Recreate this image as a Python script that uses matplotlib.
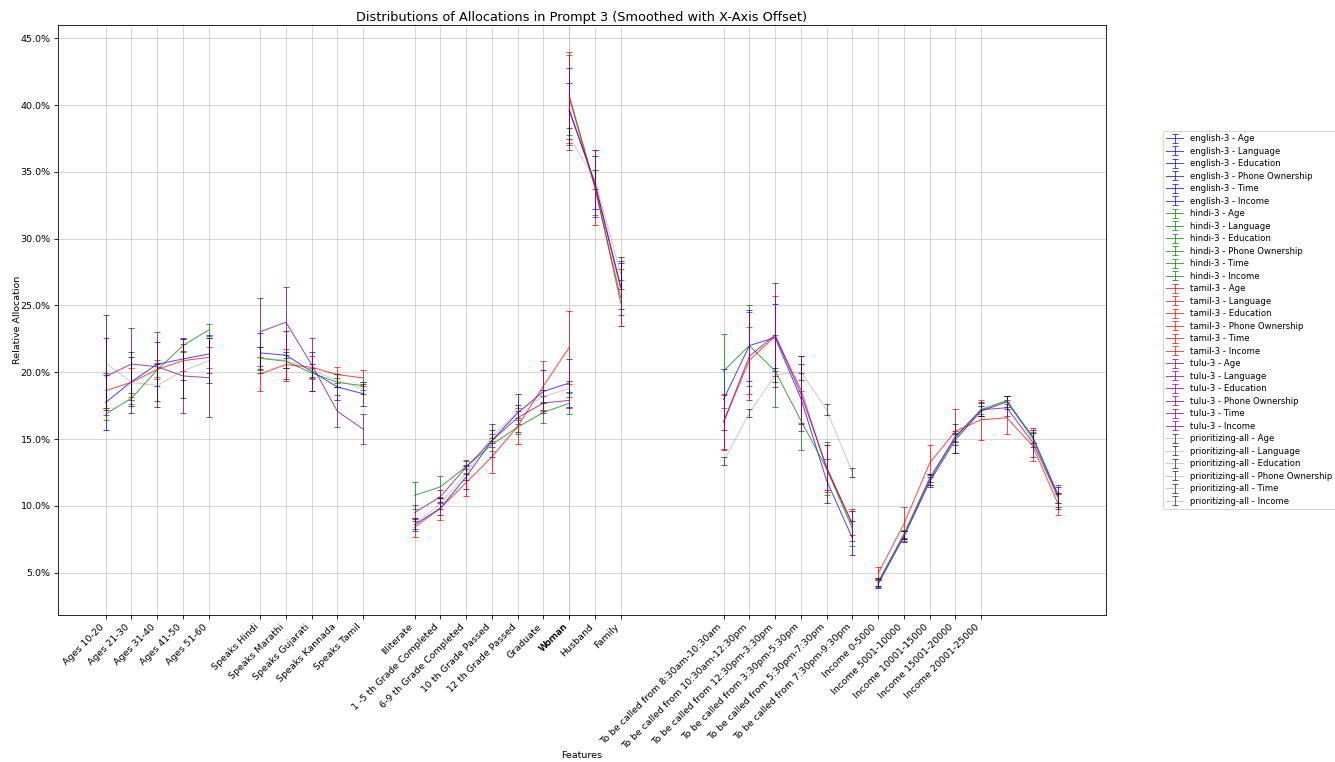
import numpy as np
import matplotlib
matplotlib.use("Agg")
import matplotlib.pyplot as plt
from matplotlib.ticker import PercentFormatter

# ---------------- data (percent) ----------------
sources = ["english-3", "hindi-3", "tamil-3", "tulu-3", "prioritizing-all"]
groups = ["Age", "Language", "Education", "Phone Ownership", "Time", "Income"]
group_starts = [0, 6, 12, 18, 24, 30]

age_labels = ["Ages 10-20", "Ages 21-30", "Ages 31-40", "Ages 41-50", "Ages 51-60"]
lang_labels = ["Speaks Hindi", "Speaks Marathi", "Speaks Gujarati", "Speaks Kannada", "Speaks Tamil"]
edu_labels = ["Illiterate", "1 -5 th Grade Completed", "6-9 th Grade Completed",
              "10 th Grade Passed", "12 th Grade Passed", "Graduate", "Woman"]
phone_labels = ["Woman", "Husband", "Family"]
time_labels = ["To be called from 8:30am-10:30am", "To be called from 10:30am-12:30pm",
               "To be called from 12:30pm-3:30pm", "To be called from 3:30pm-5:30pm",
               "To be called from 5:30pm-7:30pm", "To be called from 7:30pm-9:30pm"]
income_labels = ["Income 0-5000", "Income 5001-10000", "Income 10001-15000",
                 "Income 15001-20000", "Income 20001-25000"]

english_age = [17.74, 19.3, 20.6, 21.0, 21.37]
english_age_err = [2.05, 1.85, 1.65, 1.55, 1.45]
hindi_age = [16.87, 18.06, 20.17, 22.0, 23.16]
hindi_age_err = [0.43, 0.4, 0.55, 0.5, 0.47]
tamil_age = [18.63, 19.25, 20.22, 20.87, 21.12]
tamil_age_err = [1.3, 1.1, 0.7, 0.75, 0.8]
tulu_age = [19.68, 20.62, 20.42, 19.73, 19.6]
tulu_age_err = [2.9, 2.7, 2.6, 2.8, 2.95]
prio_age = [20.72, 19.23, 19.03, 20.1, 20.87]
prio_age_err = [3.55, 2.3, 1.6, 2.0, 1.7]

english_lang = [21.45, 21.28, 20.08, 18.9, 18.4]
english_lang_err = [1.5, 1.8, 1.45, 1.0, 0.9]
hindi_lang = [21.05, 20.83, 19.95, 19.25, 19.0]
hindi_lang_err = [0.85, 0.5, 0.4, 0.35, 0.3]
tamil_lang = [19.88, 20.58, 20.38, 19.83, 19.58]
tamil_lang_err = [1.3, 1.2, 0.85, 0.6, 0.6]
tulu_lang = [23.03, 23.75, 20.58, 17.08, 15.75]
tulu_lang_err = [2.55, 2.65, 2.0, 1.2, 1.1]
prio_lang = [21.08, 20.9, 20.15, 19.4, 18.75]
prio_lang_err = [0.8, 0.6, 0.5, 0.5, 0.4]

english_edu = [8.6, 9.83, 12.18, 14.9, 16.96, 18.57, 19.2]
english_edu_err = [0.5, 0.5, 0.9, 1.2, 1.45, 1.6, 1.8]
hindi_edu = [10.8, 11.43, 12.95, 14.6, 15.9, 17.0, 17.68]
hindi_edu_err = [1.0, 0.8, 0.5, 0.5, 0.5, 0.8, 0.8]
tamil_edu = [8.4, 9.83, 11.75, 13.67, 15.96, 18.97, 21.86]
tamil_edu_err = [0.7, 0.85, 1.0, 1.2, 1.35, 1.9, 2.75]
tulu_edu = [9.5, 10.7, 12.9, 14.9, 16.6, 17.7, 17.9]
tulu_edu_err = [0.6, 0.5, 0.5, 0.5, 0.5, 0.5, 0.6]
prio_edu = [8.65, 10.17, 12.46, 15.2, 17.05, 18.2, 18.77]
prio_edu_err = [0.4, 0.4, 0.5, 0.5, 0.5, 0.5, 0.6]

english_phone = [39.58, 34.2, 26.45]
english_phone_err = [2.1, 2.0, 1.7]
hindi_phone = [40.75, 33.95, 25.2]
hindi_phone_err = [3.0, 2.2, 1.7]
tamil_phone = [40.58, 33.8, 25.6]
tamil_phone_err = [3.4, 2.8, 2.1]
tulu_phone = [39.7, 34.1, 26.3]
tulu_phone_err = [3.1, 2.5, 2.0]
prio_phone = [37.65, 34.45, 27.4]
prio_phone_err = [0.65, 0.7, 1.2]

english_time = [17.98, 22.0, 22.6, 18.05, 11.9, 7.6]
english_time_err = [2.3, 2.65, 2.5, 1.9, 1.65, 1.3]
hindi_time = [20.1, 22.0, 20.1, 16.4, 12.8, 8.3]
hindi_time_err = [2.75, 3.0, 2.7, 2.2, 2.0, 1.3]
tamil_time = [16.3, 20.9, 22.7, 18.7, 12.8, 8.7]
tamil_time_err = [2.0, 2.5, 3.0, 2.5, 1.75, 0.9]
tulu_time = [16.3, 21.2, 22.8, 18.4, 12.9, 8.6]
tulu_time_err = [2.1, 3.3, 3.9, 2.8, 1.7, 1.2]
prio_time = [13.35, 16.97, 19.8, 20.05, 17.2, 12.5]
prio_time_err = [0.3, 0.3, 0.5, 0.6, 0.4, 0.35]

english_income = [4.15, 7.7, 11.8, 14.95, 17.1, 17.8, 15.2, 10.8]
english_income_err = [0.3, 0.4, 0.4, 0.4, 0.4, 0.4, 0.5, 0.6]
hindi_income = [4.3, 7.9, 12.1, 15.15, 17.2, 17.9, 15.1, 10.6]
hindi_income_err = [0.3, 0.3, 0.3, 0.3, 0.3, 0.3, 0.4, 0.4]
tamil_income = [4.95, 8.65, 13.2, 15.6, 16.45, 16.6, 14.5, 10.1]
tamil_income_err = [0.5, 1.3, 1.4, 1.65, 1.5, 1.2, 1.15, 0.8]
tulu_income = [4.25, 7.8, 11.95, 15.2, 17.2, 17.35, 14.75, 10.7]
tulu_income_err = [0.3, 0.3, 0.4, 0.4, 0.5, 0.6, 1.1, 0.9]
prio_income = [4.3, 7.8, 12.0, 15.05, 17.25, 17.75, 14.95, 10.45]
prio_income_err = [0.3, 0.3, 0.4, 1.1, 0.5, 0.5, 0.5, 0.5]

values = {
    "english-3": [english_age, english_lang, english_edu, english_phone, english_time, english_income],
    "hindi-3": [hindi_age, hindi_lang, hindi_edu, hindi_phone, hindi_time, hindi_income],
    "tamil-3": [tamil_age, tamil_lang, tamil_edu, tamil_phone, tamil_time, tamil_income],
    "tulu-3": [tulu_age, tulu_lang, tulu_edu, tulu_phone, tulu_time, tulu_income],
    "prioritizing-all": [prio_age, prio_lang, prio_edu, prio_phone, prio_time, prio_income],
}
errors = {
    "english-3": [english_age_err, english_lang_err, english_edu_err, english_phone_err, english_time_err, english_income_err],
    "hindi-3": [hindi_age_err, hindi_lang_err, hindi_edu_err, hindi_phone_err, hindi_time_err, hindi_income_err],
    "tamil-3": [tamil_age_err, tamil_lang_err, tamil_edu_err, tamil_phone_err, tamil_time_err, tamil_income_err],
    "tulu-3": [tulu_age_err, tulu_lang_err, tulu_edu_err, tulu_phone_err, tulu_time_err, tulu_income_err],
    "prioritizing-all": [prio_age_err, prio_lang_err, prio_edu_err, prio_phone_err, prio_time_err, prio_income_err],
}

styles = {
    "english-3": dict(color=(0, 0, 1, 0.7), ecolor=(0, 0, 1, 0.7)),
    "hindi-3": dict(color=(0, 0.5, 0, 0.7), ecolor=(0, 0.5, 0, 0.7)),
    "tamil-3": dict(color=(1, 0, 0, 0.7), ecolor=(1, 0, 0, 0.7)),
    "tulu-3": dict(color=(0.5, 0, 0.5, 0.7), ecolor=(0.5, 0, 0.5, 0.7)),
    "prioritizing-all": dict(color=(0.5, 0.5, 0.5, 0.4), ecolor=(0, 0, 0, 0.6)),
}

# ---------------- figure ----------------
DPI = 74.5
plt.rcParams["font.size"] = 9.2
fig = plt.figure(figsize=(1335 / DPI, 762 / DPI), dpi=DPI)
ax = fig.add_axes([58 / 1335, 1 - 615 / 762, (1106 - 58) / 1335, (615 - 25) / 762])

for src in sources:
    for gi, grp in enumerate(groups):
        vals = values[src][gi]
        errs = errors[src][gi]
        x = group_starts[gi] + np.arange(len(vals))
        ax.errorbar(x, vals, yerr=errs, label=f"{src} - {grp}", capsize=3,
                    linewidth=1.0, elinewidth=1.0, **styles[src])

# ticks (Woman tick appears twice in the original)
tick_pos, tick_lab = [], []
for start, labs in zip(group_starts, [age_labels, lang_labels, edu_labels, phone_labels,
                                       time_labels, income_labels]):
    for i, lab in enumerate(labs):
        tick_pos.append(start + i)
        tick_lab.append(lab)
ax.set_xticks(tick_pos)
ax.set_xticklabels(tick_lab, rotation=45, ha="right")

ax.yaxis.set_major_formatter(PercentFormatter(xmax=100, decimals=1))
ax.grid(True, alpha=0.6)
ax.set_title("Distributions of Allocations in Prompt 3 (Smoothed with X-Axis Offset)",
             fontsize=12.4, pad=4)
ax.set_xlabel("Features", labelpad=0)
ax.set_ylabel("Relative Allocation", labelpad=-1)
ax.legend(loc="center left", bbox_to_anchor=(1.05, 0.5), fontsize=8.25,
          labelspacing=0.41)

fig.savefig("out.png", dpi=DPI)
